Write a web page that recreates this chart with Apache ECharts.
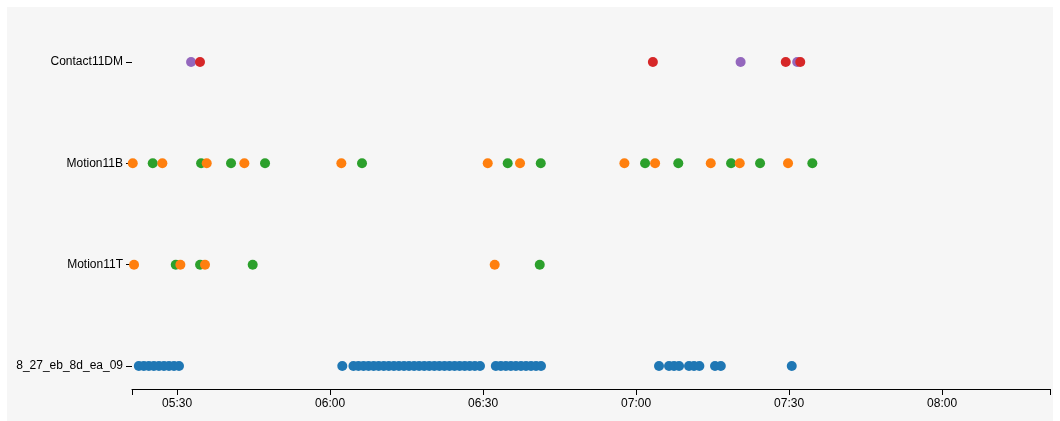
<!DOCTYPE html>
<html>
<head>
<meta charset="utf-8">
<script src="https://cdn.jsdelivr.net/npm/echarts@6/dist/echarts.min.js"></script>
<style>
  html, body { margin: 0; padding: 0; background: #fff; }
  #chart { position: absolute; left: 7px; top: 7px; width: 1046px; height: 414px; }
</style>
</head>
<body>
<div id="chart"></div>
<script>
  // rows, bottom to top
  var rows = ['8_27_eb_8d_ea_09', 'Motion11T', 'Motion11B', 'Contact11DM']

  // event kinds (d3 category10 order)
  var kinds = ['presence', 'motion_on', 'motion_off', 'open', 'closed']

  var day = '2017-08-27 '
  var axisStart = '05:21:10'
  var axisEnd = '08:21:10'
  var tickLabels = ['05:30', '06:00', '06:30', '07:00', '07:30', '08:00']

  var presenceTimes = [
    '05:22:30', '05:23:29', '05:24:28', '05:25:27', '05:26:27', '05:27:26', '05:28:25', '05:29:24', '05:30:23',
    '06:02:24',
    '06:04:35', '06:05:34', '06:06:34', '06:07:33', '06:08:33', '06:09:32', '06:10:32', '06:11:31', '06:12:31',
    '06:13:30', '06:14:30', '06:15:29', '06:16:29', '06:17:28', '06:18:28', '06:19:27', '06:20:27', '06:21:26',
    '06:22:26', '06:23:25', '06:24:25', '06:25:24', '06:26:24', '06:27:23', '06:28:23', '06:29:24',
    '06:32:30', '06:33:29', '06:34:28', '06:35:27', '06:36:26', '06:37:26', '06:38:25', '06:39:24', '06:40:23', '06:41:22',
    '07:04:30', '07:06:28', '07:07:27', '07:08:26', '07:10:23', '07:11:22', '07:12:25', '07:15:29', '07:16:37',
    '07:30:32'
  ]

  var motion11TTimes = ['05:21:34', '05:29:45', '05:30:39', '05:34:31', '05:35:29', '05:44:50', '06:32:17', '06:41:07']
  var motion11TKinds = ['motion_on', 'motion_off', 'motion_on', 'motion_off', 'motion_on', 'motion_off', 'motion_on', 'motion_off']

  var motion11BTimes = [
    '05:21:19', '05:25:14', '05:27:07', '05:34:43', '05:35:49', '05:40:35', '05:43:12', '05:47:15',
    '06:02:13', '06:06:16', '06:30:55', '06:34:50', '06:37:15', '06:41:19', '06:57:43', '07:01:46',
    '07:03:44', '07:08:17', '07:14:39', '07:18:38', '07:20:20', '07:24:19', '07:29:48', '07:34:34'
  ]
  var motion11BKinds = [
    'motion_on', 'motion_off', 'motion_on', 'motion_off', 'motion_on', 'motion_off', 'motion_on', 'motion_off',
    'motion_on', 'motion_off', 'motion_on', 'motion_off', 'motion_on', 'motion_off', 'motion_on', 'motion_off',
    'motion_on', 'motion_off', 'motion_on', 'motion_off', 'motion_on', 'motion_off', 'motion_on', 'motion_off'
  ]

  var contactTimes = ['05:32:45', '05:34:30', '07:03:18', '07:20:30', '07:29:21', '07:31:36', '07:32:12']
  var contactKinds = ['closed', 'open', 'open', 'closed', 'open', 'closed', 'open']

  var colors = ['#1f77b4', '#ff7f0e', '#2ca02c', '#d62728', '#9467bd']

  function ts (t) {
    if (t.length === 5) t += ':00'
    return new Date((day + t).replace(' ', 'T')).getTime()
  }

  // all events in time order so later dots sit on top
  var events = []
  presenceTimes.forEach(function (t) { events.push([ts(t), rows[0], 'presence']) })
  motion11TTimes.forEach(function (t, i) { events.push([ts(t), rows[1], motion11TKinds[i]]) })
  motion11BTimes.forEach(function (t, i) { events.push([ts(t), rows[2], motion11BKinds[i]]) })
  contactTimes.forEach(function (t, i) { events.push([ts(t), rows[3], contactKinds[i]]) })
  events.sort(function (a, b) { return a[0] - b[0] })

  var pad = function (n) { return (n < 10 ? '0' : '') + n }
  var labelValues = tickLabels.map(ts)
  // outer ticks at both ends, like d3
  var tickValues = [ts(axisStart)].concat(labelValues, [ts(axisEnd)])

  var option = {
    backgroundColor: '#f6f6f6',
    animation: false,
    textStyle: { fontFamily: 'Liberation Sans, Arial, sans-serif' },
    grid: { left: 125, right: 3, top: 55, bottom: 55 },
    xAxis: {
      type: 'value',
      min: ts(axisStart),
      max: ts(axisEnd),
      scale: true,
      offset: 23,
      splitLine: { show: false },
      axisLine: { show: true, onZero: false, lineStyle: { color: '#000', width: 1 } },
      axisTick: { show: true, length: 6, customValues: tickValues, lineStyle: { color: '#000' } },
      axisLabel: {
        color: '#000',
        fontSize: 12,
        margin: 9,
        hideOverlap: false,
        showMinLabel: true,
        showMaxLabel: true,
        customValues: labelValues,
        formatter: function (v) {
          var d = new Date(v)
          return pad(d.getHours()) + ':' + pad(d.getMinutes())
        }
      }
    },
    yAxis: {
      type: 'category',
      data: rows,
      boundaryGap: false,
      axisLine: { show: false },
      axisTick: { show: true, length: 6, lineStyle: { color: '#000' } },
      axisLabel: { color: '#000', fontSize: 12, margin: 9 },
      splitLine: { show: false }
    },
    series: [{
      type: 'scatter',
      symbolSize: 10,
      data: events.map(function (e) {
        return {
          value: [e[0], e[1]],
          itemStyle: { color: colors[kinds.indexOf(e[2])], opacity: 1 }
        }
      })
    }]
  }

  var chart = echarts.init(document.getElementById('chart'))
  chart.setOption(option)
  window.addEventListener('resize', function () {
    chart.resize()
  })
</script>
</body>
</html>
